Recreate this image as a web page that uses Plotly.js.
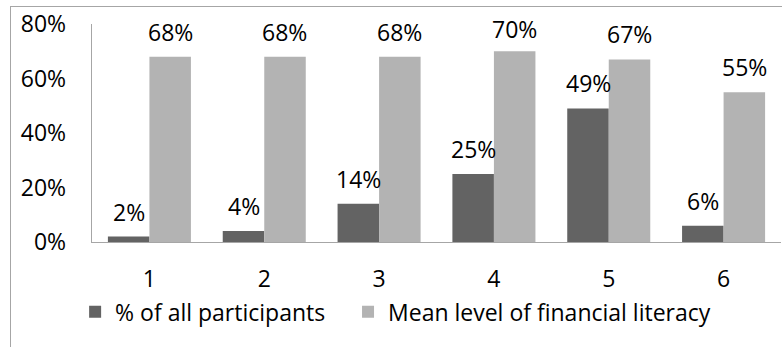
<!DOCTYPE html>
<html>
<head>
<meta charset="utf-8">
<script src="https://cdn.plot.ly/plotly-3.0.1.min.js"></script>
<style>
  html, body { margin: 0; padding: 0; background: #fff; }
  #wrap { position: relative; width: 782px; height: 347px; overflow: hidden; }
  #chart { position: absolute; left: 0; top: 0; width: 782px; height: 347px; }
  #frame { position: absolute; left: 10px; top: 6px; right: -2px; bottom: -2px;
           border-left: 1px solid #a6a6a6; border-top: 1px solid #a6a6a6; pointer-events: none; }
</style>
</head>
<body>
<div id="wrap">
  <div id="chart"></div>
  <div id="frame"></div>
</div>
<script>
const categories = ['1', '2', '3', '4', '5', '6'];
const participants = [0.02, 0.04, 0.14, 0.25, 0.49, 0.06];
const literacy = [0.68, 0.68, 0.68, 0.70, 0.67, 0.55];
const seriesNames = ['% of all participants', 'Mean level of financial literacy'];
const yTicks = [0, 0.2, 0.4, 0.6, 0.8];
const yTickLabels = ['0%', '20%', '40%', '60%', '80%'];

const FONT = '"Open Sans", sans-serif';
const FS = 23;
const DARK = '#636363';
const LIGHT = '#b3b3b3';
const AXIS = '#a6a6a6';

const H = 347, MT = 24, MB = 105;
const plotH = H - MT - MB;
const yMax = 0.8;

function pct(v) { return Math.round(v * 100) + '%'; }

const traces = [
  { type: 'bar', x: categories, y: participants, name: seriesNames[0],
    marker: { color: DARK }, hoverinfo: 'skip', legend: 'legend' },
  { type: 'bar', x: categories, y: literacy, name: seriesNames[1],
    marker: { color: LIGHT }, hoverinfo: 'skip', legend: 'legend2' }
];

const annotations = [];
function addLabels(vals, xshift) {
  vals.forEach((v, i) => {
    const topPx = plotH - v / yMax * plotH;      // pixel offset from plot top
    const shift = Math.min(25, topPx - 5);
    annotations.push({
      x: i, y: v, xref: 'x', yref: 'y',
      text: pct(v), showarrow: false, xshift: xshift, yshift: shift,
      yanchor: 'middle', xanchor: 'center',
      font: { family: FONT, size: FS, color: '#000' }
    });
  });
}
addLabels(participants, -20.6);
addLabels(literacy, 20.6);

const legendBase = {
  orientation: 'h', xanchor: 'left', y: -0.222, yanchor: 'top',
  font: { family: FONT, size: FS, color: '#000' },
  bgcolor: 'rgba(0,0,0,0)'
};

const layout = {
  width: 782, height: 347,
  margin: { l: 92, r: 1, t: MT, b: MB, pad: 0 },
  paper_bgcolor: 'rgba(0,0,0,0)', plot_bgcolor: 'rgba(0,0,0,0)',
  barmode: 'group', bargap: 0.277, bargroupgap: 0,
  font: { family: FONT, size: FS, color: '#000' },
  showlegend: true,
  legend: Object.assign({}, legendBase, { x: -0.0245 }),
  legend2: Object.assign({}, legendBase, { x: 0.3716 }),
  xaxis: {
    type: 'category', range: [-0.5, categories.length - 0.5],
    showline: true, linecolor: AXIS, linewidth: 1.3,
    showgrid: false, zeroline: false, ticks: '', ticklabelstandoff: 16,
    tickfont: { family: FONT, size: FS, color: '#000' }, fixedrange: true
  },
  yaxis: {
    range: [0, yMax], tickvals: yTicks, ticktext: yTickLabels,
    showline: true, linecolor: AXIS, linewidth: 1.3,
    showgrid: false, zeroline: false, ticks: '', ticklabelstandoff: 20,
    tickfont: { family: FONT, size: FS, color: '#000' }, fixedrange: true
  },
  annotations: annotations
};

Plotly.newPlot('chart', traces, layout, { displayModeBar: false, staticPlot: true });
</script>
</body>
</html>
